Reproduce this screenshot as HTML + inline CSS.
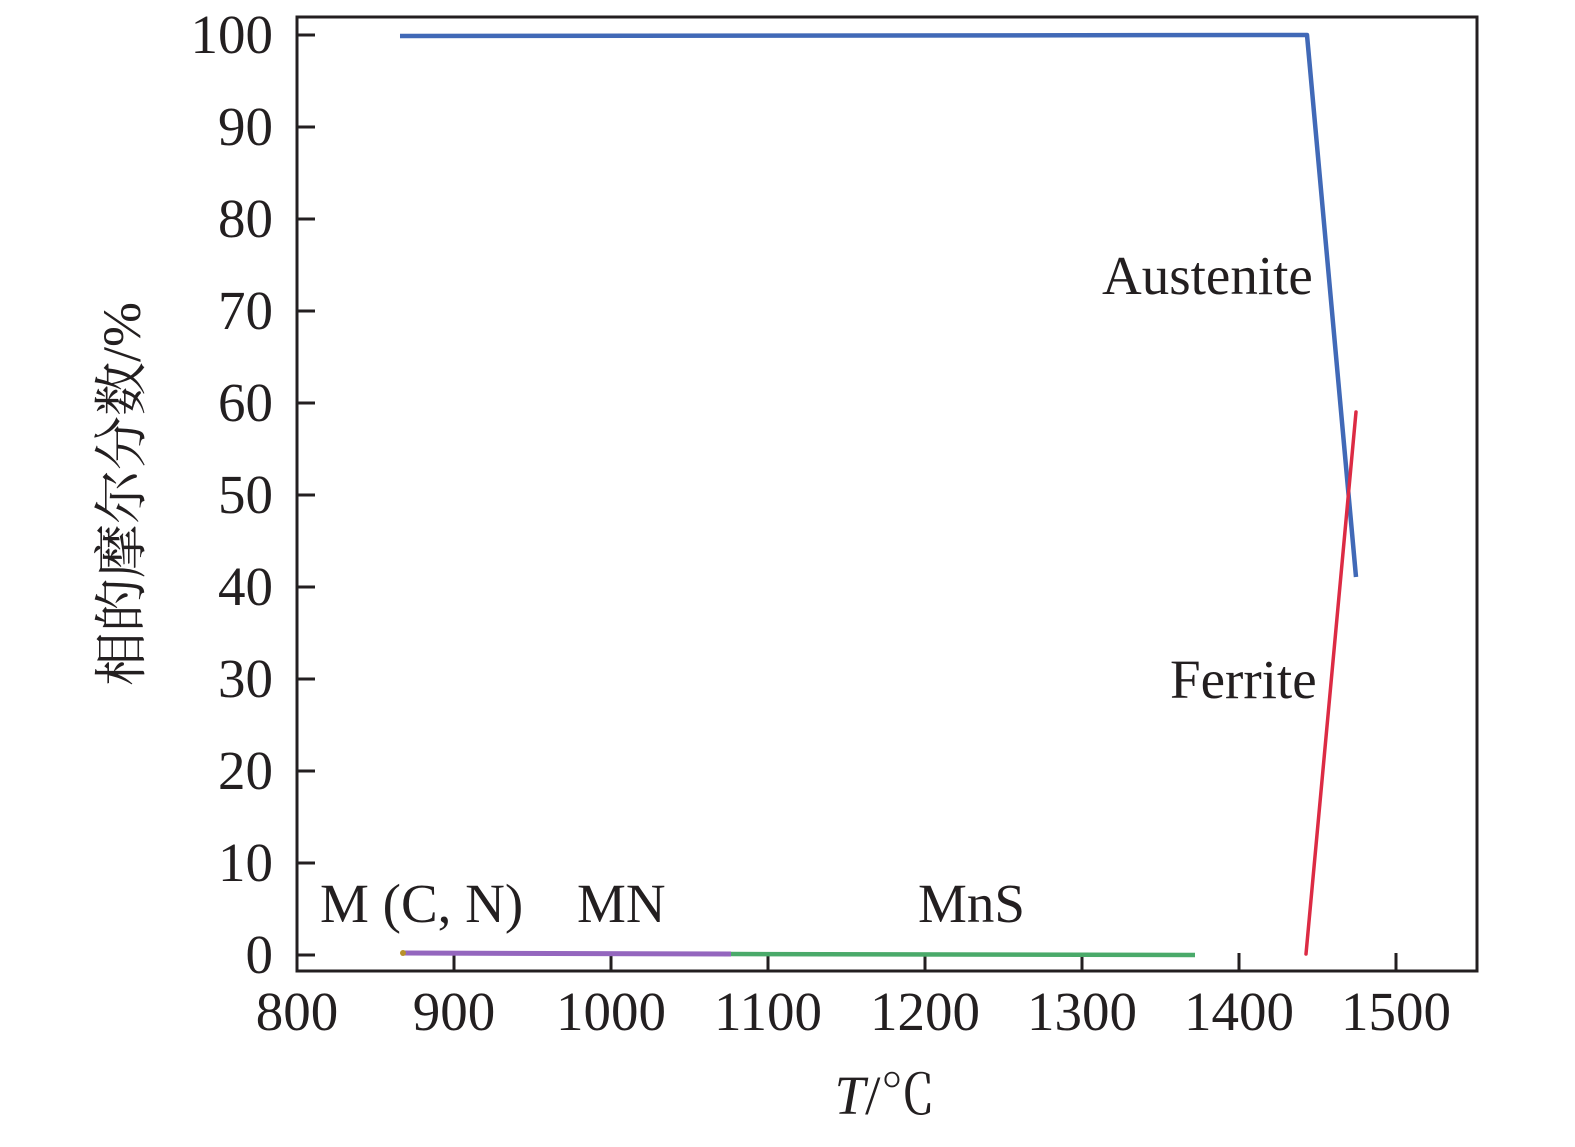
<!DOCTYPE html>
<html><head><meta charset="utf-8"><style>html,body{margin:0;padding:0;background:#fff}</style></head>
<body>
<svg width="1575" height="1142" xmlns="http://www.w3.org/2000/svg" font-family="Liberation Serif, serif" fill="#231f20">
<rect x="297" y="17" width="1180" height="954" fill="none" stroke="#231f20" stroke-width="3"/>
<g stroke="#231f20" stroke-width="3">
<line x1="297" y1="35" x2="315" y2="35"/><line x1="297" y1="127" x2="315" y2="127"/>
<line x1="297" y1="219" x2="315" y2="219"/><line x1="297" y1="311" x2="315" y2="311"/>
<line x1="297" y1="403" x2="315" y2="403"/><line x1="297" y1="495" x2="315" y2="495"/>
<line x1="297" y1="587" x2="315" y2="587"/><line x1="297" y1="679" x2="315" y2="679"/>
<line x1="297" y1="771" x2="315" y2="771"/><line x1="297" y1="863" x2="315" y2="863"/>
<line x1="297" y1="955" x2="315" y2="955"/>
<line x1="454" y1="971" x2="454" y2="953"/><line x1="611" y1="971" x2="611" y2="953"/>
<line x1="768" y1="971" x2="768" y2="953"/><line x1="925" y1="971" x2="925" y2="953"/>
<line x1="1082" y1="971" x2="1082" y2="953"/><line x1="1239" y1="971" x2="1239" y2="953"/>
<line x1="1396" y1="971" x2="1396" y2="953"/>
</g>
<g font-size="55" text-anchor="end">
<text x="273" y="53">100</text><text x="273" y="145">90</text><text x="273" y="237">80</text>
<text x="273" y="329">70</text><text x="273" y="421">60</text><text x="273" y="513">50</text>
<text x="273" y="605">40</text><text x="273" y="697">30</text><text x="273" y="789">20</text>
<text x="273" y="881">10</text><text x="273" y="973">0</text>
</g>
<g font-size="55" text-anchor="middle">
<text x="297" y="1030">800</text><text x="454" y="1030">900</text><text x="611" y="1030">1000</text>
<text x="768" y="1030">1100</text><text x="925" y="1030">1200</text><text x="1082" y="1030">1300</text>
<text x="1239" y="1030">1400</text><text x="1396" y="1030">1500</text>
</g>
<text x="885" y="1114" font-size="55" text-anchor="middle"><tspan font-style="italic">T</tspan>/<tspan font-family="Noto Serif CJK SC, serif">℃</tspan></text>
<text transform="translate(140,494) rotate(-90)" font-size="54" text-anchor="middle" font-family="Liberation Serif, Noto Serif CJK SC, serif">相的摩尔分数/%</text>
<polyline points="400,36 1307,35 1356,577" fill="none" stroke="#4169b7" stroke-width="4.5" stroke-linejoin="round"/>
<line x1="1306" y1="954" x2="1356" y2="412" stroke="#dc2b44" stroke-width="3.5" stroke-linecap="round"/>
<line x1="731" y1="954" x2="1195" y2="955" stroke="#4aaa6a" stroke-width="4.5"/>
<line x1="403" y1="953" x2="731" y2="954" stroke="#9466be" stroke-width="5"/>
<circle cx="403" cy="953" r="3" fill="#b8902a"/>
<g font-size="55">
<text x="1102" y="294">Austenite</text>
<text x="1170" y="698">Ferrite</text>
<text x="918" y="922">MnS</text>
<text x="320" y="922">M (C, N)</text>
<text x="577" y="922">MN</text>
</g>
</svg>
</body></html>
